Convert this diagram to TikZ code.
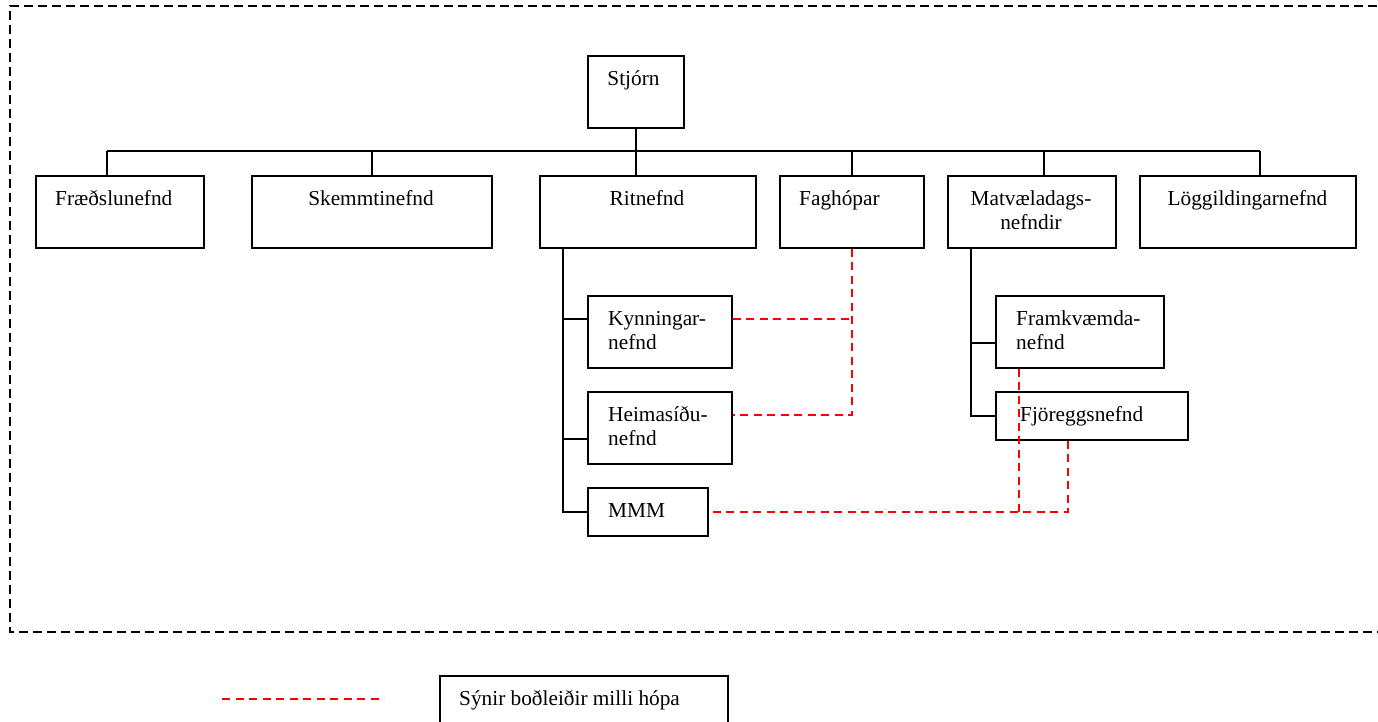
\documentclass[tikz,border=0pt]{standalone}
\usepackage{fontspec}
\setmainfont{Liberation Serif}
\usetikzlibrary{calc}
\begin{document}
\begin{tikzpicture}[x=1pt,y=-1pt,
  box/.style={draw, line width=1.8pt, inner sep=0pt, anchor=north west},
  lbl/.style={font=\fontsize{21.3}{24}\selectfont, inner sep=0pt, anchor=base west, align=left},
  lblc/.style={font=\fontsize{21.3}{24}\selectfont, inner sep=0pt, anchor=base, align=center},
  tree/.style={line width=1.8pt},
  rel/.style={draw=red, line width=1.6pt, dash pattern=on 8pt off 5.5pt},
  frame/.style={line width=1.4pt, dash pattern=on 9pt off 5pt}]
\clip (0,0) rectangle (1378,722);
\fill[white] (0,0) rectangle (1378,722);
% outer dashed frame
\draw[frame] (1400,632) -- (10,632) -- (10,6) -- (1400,6);
% boxes
\node[box, minimum width=96pt,  minimum height=72pt] (stjorn) at (587,55) {};
\node[box, minimum width=168pt, minimum height=72pt] (fr)     at (35,175) {};
\node[box, minimum width=240pt, minimum height=72pt] (sk)     at (251,175) {};
\node[box, minimum width=216pt, minimum height=72pt] (rit)    at (539,175) {};
\node[box, minimum width=144pt, minimum height=72pt] (fag)    at (779,175) {};
\node[box, minimum width=168pt, minimum height=72pt] (matv)   at (947,175) {};
\node[box, minimum width=216pt, minimum height=72pt] (logg)   at (1139,175) {};
\node[box, minimum width=144pt, minimum height=72pt] (kyn)    at (587,295) {};
\node[box, minimum width=144pt, minimum height=72pt] (heim)   at (587,391) {};
\node[box, minimum width=120pt, minimum height=48pt] (mmm)    at (587,487) {};
\node[box, minimum width=168pt, minimum height=72pt] (framk)  at (995,295) {};
\node[box, minimum width=192pt, minimum height=48pt] (fjor)   at (995,391) {};
\node[box, minimum width=288pt, minimum height=80pt] (leg)    at (439,675) {};
% texts (two-line nodes are placed by the baseline of their last line)
\node[lblc] (tstjorn) at (633.5,86) {Stjórn};
\node[lbl]  (tfr)     at (55,205.5) {Fræðslunefnd};
\node[lblc] (tsk)     at (371,205.5) {Skemmtinefnd};
\node[lblc] (trit)    at (647,205.5) {Ritnefnd};
\node[lbl]  (tfag)    at (799,205.5) {Faghópar};
\node[lblc] (tmatv)   at (1031,229.5) {Matvæladags-\\nefndir};
\node[lblc] (tlogg)   at (1247.5,205.5) {Löggildingarnefnd};
\node[lbl]  (tkyn)    at (608,349) {Kynningar-\\nefnd};
\node[lbl]  (theim)   at (608,445.5) {Heimasíðu-\\nefnd};
\node[lbl]  (tmmm)    at (608,517.5) {MMM};
\node[lbl]  (tframk)  at (1016,349) {Framkvæmda-\\nefnd};
\node[lbl]  (tfjor)   at (1020,421.5) {Fjöreggsnefnd};
\node[lbl]  (tleg)    at (459,705) {Sýnir boðleiðir milli hópa};
% tree connectors
\coordinate (busL) at (107,151);
\coordinate (busR) at (1260,151);
\coordinate (mstem) at (1044,151);
\draw[tree] (busL) -- (busR);
\draw[tree] (stjorn.south) -- (rit.north -| stjorn.south);
\draw[tree] (busL) -- (busL |- fr.north);
\draw[tree] (sk.north |- busL) -- (sk.north);
\draw[tree] (fag.north |- busL) -- (fag.north);
\draw[tree] (mstem) -- (mstem |- matv.north);
\draw[tree] (busR) -- (busR |- logg.north);
% Ritnefnd subtree
\coordinate (rtop) at ($(rit.south west)+(24,0)$);
\draw[tree] (rtop) |- (mmm.west);
\coordinate (kW) at ($(kyn.north west)+(0,24)$);
\coordinate (hW) at ($(heim.north west)+(0,48)$);
\draw[tree] (kW) -- (kW -| rtop);
\draw[tree] (hW) -- (hW -| rtop);
% Matvaeladagsnefndir subtree
\coordinate (mtop) at ($(matv.south west)+(24,0)$);
\draw[tree] (mtop) |- (fjor.west);
\coordinate (fW) at ($(framk.north west)+(0,48)$);
\draw[tree] (fW) -- (fW -| mtop);
% red communication lines
\coordinate (kE) at ($(kyn.north east)+(0,24)$);
\coordinate (hE) at ($(heim.north east)+(0,24)$);
\draw[rel] (fag.south) |- (hE);
\draw[rel] (kE) -- (kE -| fag.south);
\coordinate (fjS) at ($(fjor.south west)+(73,0)$);
\coordinate (frS) at ($(framk.south west)+(24,0)$);
\draw[rel] (fjS) |- (mmm.east);
\draw[rel] (frS) -- (frS |- mmm.east);
% legend
\coordinate (lg1) at (222,699);
\coordinate (lg2) at (384,699);
\draw[rel] (lg1) -- (lg2);
\end{tikzpicture}
\end{document}
